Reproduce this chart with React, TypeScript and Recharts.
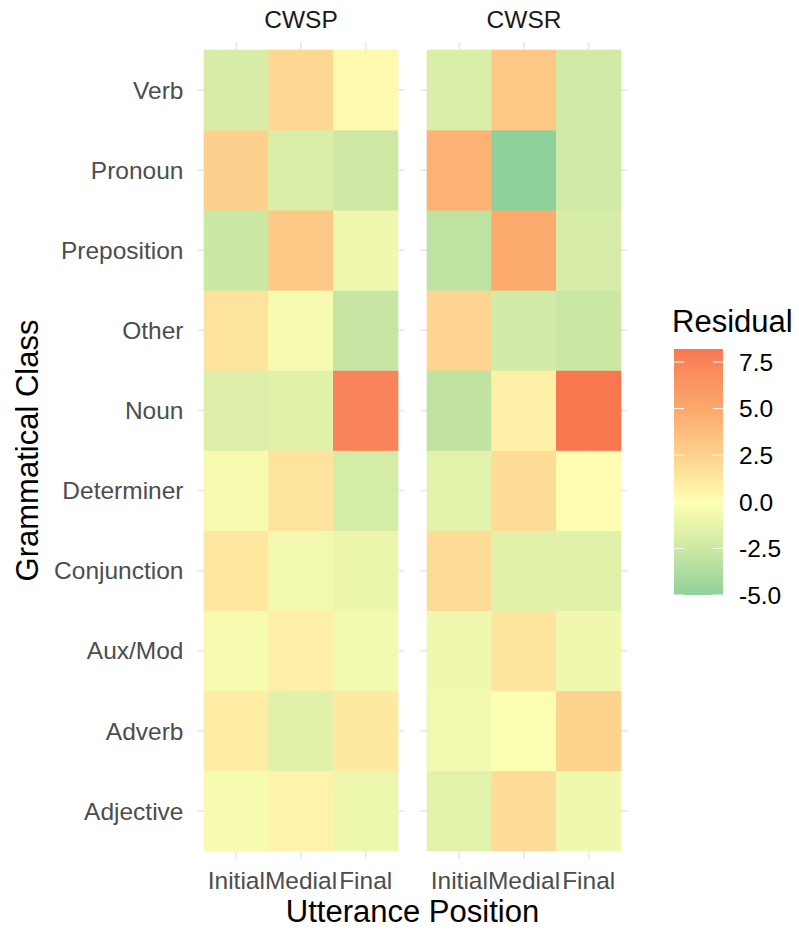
import React from 'react';
import { ScatterChart, Scatter, XAxis, YAxis, CartesianGrid } from 'recharts';

// Categories (bottom to top, as ggplot orders a factor on the y axis)
const classes = ['Adjective', 'Adverb', 'Aux/Mod', 'Conjunction', 'Determiner', 'Noun', 'Other', 'Preposition', 'Pronoun', 'Verb'];
const positions = ['Initial', 'Medial', 'Final'];
const facets = ['CWSP', 'CWSR'];

// Residuals per class (same order as `classes`)
const cwspInitial = [-0.4, 1.0, -0.5, 1.25, -0.5, -1.7, 1.5, -2.6, 2.5, -2.0];
const cwspMedial = [0.65, -1.5, 0.75, -0.6, 1.5, -1.5, -0.4, 3.0, -1.8, 2.1];
const cwspFinal = [-0.9, 1.2, -0.6, -1.0, -2.1, 7.5, -2.7, -0.8, -2.4, 0.33];
const cwsrInitial = [-1.4, -0.7, -0.8, 1.9, -1.4, -3.0, 2.3, -3.1, 4.4, -1.9];
const cwsrMedial = [1.9, -0.2, 1.4, -1.5, 1.9, 0.75, -2.2, 4.9, -5.0, 3.1];
const cwsrFinal = [-0.8, 2.4, -0.8, -1.5, 0.1, 8.2, -2.6, -2.0, -2.3, -2.3];

const legendTicks = [-5, -2.5, 0, 2.5, 5, 7.5];

// colour scale stops (value -> colour)
const stopValues = [-5, -2.5, 0, 2.5, 5, 7.5, 8.2];
const stopColors = ['#8fd19b', '#cde8a4', '#ffffb2', '#fdd18d', '#fca86c', '#f9845a', '#f8774f'];

const FONT = '"Liberation Sans", Arial, Helvetica, sans-serif';
const H = 932;
const PLOT_TOP = 42;
const PLOT_BOTTOM = 859;
const PLOT_W = 207;
const CELL_W = PLOT_W / 3.2;
const CELL_H = (PLOT_BOTTOM - PLOT_TOP) / 10.2;

const hexToRgb = (h: string) => [1, 3, 5].map((i) => parseInt(h.slice(i, i + 2), 16));
function colorFor(v: number): string {
  if (v <= stopValues[0]) return stopColors[0];
  for (let i = 1; i < stopValues.length; i++) {
    if (v <= stopValues[i]) {
      const t = (v - stopValues[i - 1]) / (stopValues[i] - stopValues[i - 1]);
      const a = hexToRgb(stopColors[i - 1]);
      const b = hexToRgb(stopColors[i]);
      const c = a.map((x, k) => Math.round(x + (b[k] - x) * t));
      return `rgb(${c[0]},${c[1]},${c[2]})`;
    }
  }
  return stopColors[stopColors.length - 1];
}

const buildData = (cols: number[][]) =>
  cols.flatMap((arr, xi) => arr.map((value, yi) => ({ x: xi, y: yi, value })));

const panelData = [
  buildData([cwspInitial, cwspMedial, cwspFinal]),
  buildData([cwsrInitial, cwsrMedial, cwsrFinal]),
];

const allValues = [cwspInitial, cwspMedial, cwspFinal, cwsrInitial, cwsrMedial, cwsrFinal].flat();
const vMin = Math.min(...allValues);
const vMax = Math.max(...allValues);

const xTicks = positions.map((_, i) => i);
const yTicks = classes.map((_, i) => i);

const Tile = (props: any) => {
  const { cx, cy, payload } = props;
  if (cx == null || cy == null) return null;
  return (
    <rect
      x={cx - CELL_W / 2 - 0.3}
      y={cy - CELL_H / 2 - 0.3}
      width={CELL_W + 0.6}
      height={CELL_H + 0.6}
      fill={colorFor(payload.value)}
    />
  );
};

const tickStyle = { fill: '#4d4d4d', fontSize: 24.5, fontFamily: FONT };

function Panel({ left, width, margin, data, showY }: any) {
  return (
    <div style={{ position: 'absolute', left, top: 0 }}>
      <ScatterChart width={width} height={H} margin={margin}>
        <CartesianGrid stroke="#ebebeb" strokeWidth={2} verticalValues={xTicks} horizontalValues={yTicks} />
        <XAxis
          type="number"
          dataKey="x"
          domain={[-0.6, 2.6]}
          ticks={xTicks}
          interval={0}
          tickFormatter={(i: number) => positions[i]}
          axisLine={false}
          tickLine={false}
          tickSize={0}
          tickMargin={13}
          height={73}
          tick={tickStyle}
        />
        <YAxis
          type="number"
          dataKey="y"
          domain={[-0.6, 9.6]}
          ticks={yTicks}
          interval={0}
          tickFormatter={(i: number) => classes[i]}
          axisLine={false}
          tickLine={false}
          tickSize={0}
          tickMargin={14}
          width={197.5}
          hide={!showY}
          tick={tickStyle}
        />
        <Scatter data={data} shape={Tile} isAnimationActive={false} />
      </ScatterChart>
    </div>
  );
}

const LEG_X = 674;
const LEG_W = 49;
const LEG_TOP = 349;
const LEG_BOTTOM = 595;
const legY = (v: number) => LEG_BOTTOM - ((v - vMin) / (vMax - vMin)) * (LEG_BOTTOM - LEG_TOP);

export default function App() {
  const gradStops = Array.from({ length: 41 }, (_, i) => {
    const v = vMin + ((vMax - vMin) * i) / 40;
    return { offset: i / 40, color: colorFor(v) };
  });
  return (
    <div style={{ position: 'absolute', left: 0, top: 0, width: 799, height: 932, background: '#fff', fontFamily: FONT }}>
      <Panel left={0} width={420} margin={{ top: PLOT_TOP, right: 15.5, bottom: 0, left: 0 }} data={panelData[0]} showY />
      <Panel left={410} width={230} margin={{ top: PLOT_TOP, right: 12.5, bottom: 0, left: 10.5 }} data={panelData[1]} showY={false} />
      <svg width={799} height={932} style={{ position: 'absolute', left: 0, top: 0, pointerEvents: 'none' }}>
        <defs>
          <linearGradient id="resGrad" x1="0" y1="1" x2="0" y2="0">
            {gradStops.map((s, i) => (
              <stop key={i} offset={s.offset} stopColor={s.color} />
            ))}
          </linearGradient>
        </defs>
        <g fontFamily={FONT}>
          <text x={301} y={28} textAnchor="middle" fontSize={24.5} fill="#1a1a1a">{facets[0]}</text>
          <text x={524} y={28} textAnchor="middle" fontSize={24.5} fill="#1a1a1a">{facets[1]}</text>
          <text x={412.5} y={922} textAnchor="middle" fontSize={31} fill="#000">Utterance Position</text>
          <text transform="translate(38,450.5) rotate(-90)" textAnchor="middle" fontSize={31} fill="#000">Grammatical Class</text>
          <text x={672} y={332} fontSize={31} fill="#000">Residual</text>
          <rect x={LEG_X} y={LEG_TOP} width={LEG_W} height={LEG_BOTTOM - LEG_TOP} fill="url(#resGrad)" />
          {legendTicks.map((t) => (
            <g key={t}>
              <line x1={LEG_X} x2={LEG_X + 10} y1={legY(t)} y2={legY(t)} stroke="#fff" strokeWidth={1} />
              <line x1={LEG_X + LEG_W - 10} x2={LEG_X + LEG_W} y1={legY(t)} y2={legY(t)} stroke="#fff" strokeWidth={1} />
              <text x={739} y={legY(t)} dy="0.36em" fontSize={24.5} fill="#000">{t.toFixed(1)}</text>
            </g>
          ))}
        </g>
      </svg>
    </div>
  );
}
